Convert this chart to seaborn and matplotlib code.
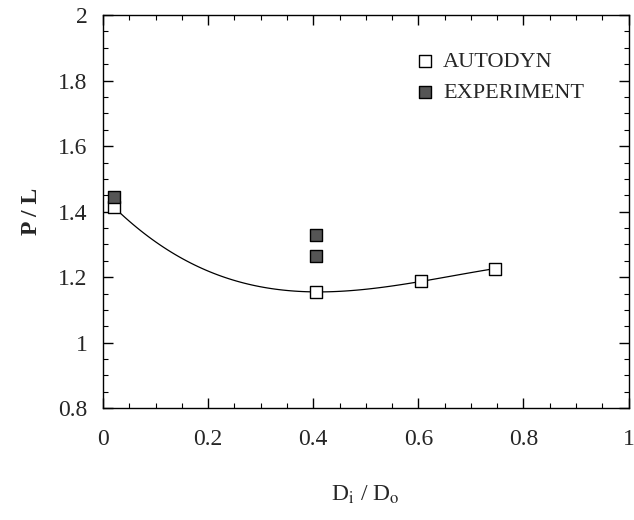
import matplotlib
matplotlib.use("Agg")
import matplotlib.pyplot as plt
import seaborn as sns
import pandas as pd
from matplotlib.ticker import MultipleLocator, FuncFormatter

## data
autodyn_x = [0.02, 0.405, 0.605, 0.745]
autodyn_y = [1.415, 1.155, 1.187, 1.226]
exp_x = [0.02, 0.405, 0.405]
exp_y = [1.445, 1.330, 1.265]

x_ticks = [0, 0.2, 0.4, 0.6, 0.8, 1]
y_ticks = [0.8, 1, 1.2, 1.4, 1.6, 1.8, 2]

autodyn_df = pd.DataFrame({"ratio": autodyn_x, "pl": autodyn_y})
exp_df = pd.DataFrame({"ratio": exp_x, "pl": exp_y})

sns.set_style("white")
plt.rcParams["font.family"] = ["Liberation Serif", "DejaVu Serif"]
plt.rcParams["mathtext.fontset"] = "stix"

fig = plt.figure(figsize=(6.34, 5.2), dpi=100)
ax = fig.add_axes([0.1625, 0.215, 0.829, 0.756])

# fitted curve through the autodyn points
sns.regplot(x="ratio", y="pl", data=autodyn_df, order=3, ci=None, scatter=False,
            line_kws={"color": "black", "linewidth": 0.9}, ax=ax)

sns.scatterplot(x="ratio", y="pl", data=autodyn_df, marker="s", s=75,
                facecolor="white", edgecolor="black", linewidth=1.0,
                label="AUTODYN", ax=ax, zorder=3)
sns.scatterplot(x="ratio", y="pl", data=exp_df, marker="s", s=75,
                facecolor="#555555", edgecolor="black", linewidth=1.0,
                label="EXPERIMENT", ax=ax, zorder=3)

ax.set_xlim(0, 1)
ax.set_ylim(0.8, 2)
ax.set_xticks(x_ticks)
ax.set_yticks(y_ticks)
ax.xaxis.set_minor_locator(MultipleLocator(0.05))
ax.yaxis.set_minor_locator(MultipleLocator(0.05))
fmt = FuncFormatter(lambda v, p: "%g" % v)
ax.xaxis.set_major_formatter(fmt)
ax.yaxis.set_major_formatter(fmt)

ax.tick_params(which="both", direction="in", top=True, right=True,
               bottom=True, left=True, color="black")
ax.tick_params(which="major", length=7, width=1.0, labelsize=17)
ax.tick_params(axis="x", which="major", pad=15)
ax.tick_params(axis="y", which="major", pad=11)
ax.tick_params(which="minor", length=3.5, width=0.8)
for s in ax.spines.values():
    s.set_color("black")
    s.set_linewidth(1.0)

ax.set_xlabel(r"D$_\mathrm{i}$ / D$_\mathrm{o}$", fontsize=17, labelpad=24)
ax.set_ylabel("P / L", fontsize=17, fontweight="bold", labelpad=12)

ax.legend(loc="upper left", bbox_to_anchor=(0.575, 0.93), frameon=False,
          fontsize=16, handletextpad=0.3, labelspacing=0.45,
          borderaxespad=0.0, handlelength=1.0)

plt.savefig("out.png", dpi=100)
